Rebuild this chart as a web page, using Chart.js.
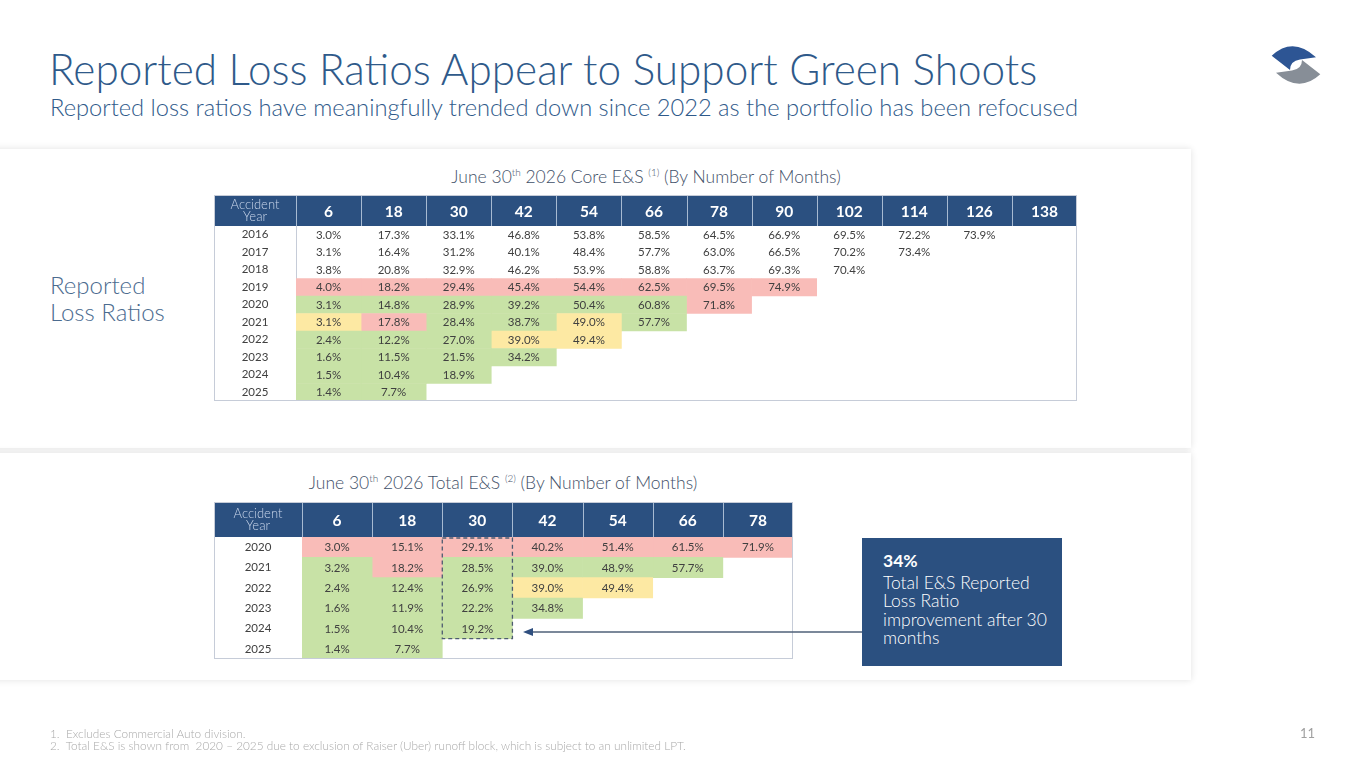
<!DOCTYPE html>
<html>
<head>
<meta charset="utf-8">
<script src="https://cdn.jsdelivr.net/npm/chart.js@4.4.1/dist/chart.umd.min.js"></script>
<style>
  html, body { margin:0; padding:0; background:#ffffff; }
  body { width:1365px; height:768px; position:relative; overflow:hidden; font-family:Lato, "Noto Sans", sans-serif; }
  .abs { position:absolute; }
  .title { left:49px; top:48px; font-size:42.3px; line-height:1; font-weight:300; color:#2f5a8a; white-space:nowrap; }
  .subtitle { left:50px; top:96px; font-size:23.7px; line-height:1; font-weight:300; color:#2f5a8a; white-space:nowrap; }
  .panel { left:-10px; width:1201px; background:#fff; box-shadow:0 0 7px rgba(0,0,0,0.12); }
  .tabtitle { font-size:17.5px; line-height:1; font-weight:300; color:#3f5068; white-space:nowrap; transform:translateX(-50%); }
  .tabtitle sup { font-size:10px; vertical-align:7px; line-height:0; }
  .side { left:50px; top:271px; font-size:24px; line-height:27px; font-weight:300; color:#4b6b8f; }
  .callout { left:862px; top:538px; width:200px; height:128px; background:#2b5080; color:#fff; box-sizing:border-box; padding:14px 0 0 21px; font-size:17.5px; line-height:18.5px; font-weight:300; }
  .callout b { font-weight:700; display:block; margin-bottom:3px; }
  .foot { left:50px; top:728px; font-size:11.8px; line-height:11.5px; font-weight:300; color:#aaaaaa; white-space:nowrap; }
  .page { left:1300px; top:727px; font-size:13px; line-height:1; color:#a0a0a0; }
</style>
</head>
<body>
<div class="abs title">Reported Loss Ratios Appear to Support Green Shoots</div>
<div class="abs subtitle">Reported loss ratios have meaningfully trended down since 2022 as the portfolio has been refocused</div>

<svg class="abs" style="left:0;top:0" width="1365" height="768" viewBox="0 0 1365 768">
  <path d="M1271.7,55.7 Q1293,36 1316,57.3 L1300,59.5 Q1290,61 1290,70 Z" fill="#2d5594"/>
  <path d="M1320.3,74.3 Q1299,94 1276,72.7 L1292,70.5 Q1302,69 1302,60 Z" fill="#878e97"/>
</svg>

<div class="abs panel" style="top:149px;height:299px"></div>
<div class="abs panel" style="top:453px;height:227px"></div>

<div class="abs side">Reported<br>Loss Ratios</div>

<div class="abs tabtitle" style="left:646px;top:168px">June 30<sup>th</sup> 2026 Core E&amp;S <sup>(1)</sup> (By Number of Months)</div>
<div class="abs tabtitle" style="left:503px;top:474px">June 30<sup>th</sup> 2026 Total E&amp;S <sup>(2)</sup> (By Number of Months)</div>

<div class="abs" style="left:214px;top:195px;width:863px;height:206px"><canvas id="core"></canvas></div>
<div class="abs" style="left:214px;top:502px;width:579px;height:157px"><canvas id="total"></canvas></div>

<svg class="abs" style="left:0;top:0;pointer-events:none" width="1365" height="768" viewBox="0 0 1365 768">
  <line x1="531" y1="632" x2="862" y2="632" stroke="#4f6079" stroke-width="1.3"/>
  <path d="M523,632 L533,628 L533,636 Z" fill="#2f4f7f"/>
</svg>

<div class="abs callout"><b>34%</b>Total E&amp;S Reported<br>Loss Ratio<br>improvement after 30<br>months</div>

<div class="abs foot">1.&nbsp; Excludes Commercial Auto division.<br>2.&nbsp; Total E&amp;S is shown from&nbsp; 2020 – 2025 due to exclusion of Raiser (Uber) runoff block, which is subject to an unlimited LPT.</div>
<div class="abs page">11</div>

<script>
// ---------- DATA ----------
const coreMonths = ['6','18','30','42','54','66','78','90','102','114','126','138'];
const coreYears  = ['2016','2017','2018','2019','2020','2021','2022','2023','2024','2025'];
const coreValues = [
  [3.0, 17.3, 33.1, 46.8, 53.8, 58.5, 64.5, 66.9, 69.5, 72.2, 73.9],
  [3.1, 16.4, 31.2, 40.1, 48.4, 57.7, 63.0, 66.5, 70.2, 73.4],
  [3.8, 20.8, 32.9, 46.2, 53.9, 58.8, 63.7, 69.3, 70.4],
  [4.0, 18.2, 29.4, 45.4, 54.4, 62.5, 69.5, 74.9],
  [3.1, 14.8, 28.9, 39.2, 50.4, 60.8, 71.8],
  [3.1, 17.8, 28.4, 38.7, 49.0, 57.7],
  [2.4, 12.2, 27.0, 39.0, 49.4],
  [1.6, 11.5, 21.5, 34.2],
  [1.5, 10.4, 18.9],
  [1.4, 7.7]
];
// highlight class per cell: r = worse, g = better, y = flat
const coreFlags = ['', '', '', 'rrrrrrrr', 'ggggggr', 'yrggyg', 'gggyy', 'gggg', 'ggg', 'gg'];

const totalMonths = ['6','18','30','42','54','66','78'];
const totalYears  = ['2020','2021','2022','2023','2024','2025'];
const totalValues = [
  [3.0, 15.1, 29.1, 40.2, 51.4, 61.5, 71.9],
  [3.2, 18.2, 28.5, 39.0, 48.9, 57.7],
  [2.4, 12.4, 26.9, 39.0, 49.4],
  [1.6, 11.9, 22.2, 34.8],
  [1.5, 10.4, 19.2],
  [1.4, 7.7]
];
const totalFlags = ['rrrrrrr', 'grgggg', 'gggyy', 'gggg', 'ggg', 'gg'];
const totalHighlight = { month: '30', fromYear: '2020', toYear: '2024' };

// ---------- STYLE ----------
const palette = { r:'#f9bcb8', g:'#c8e2a6', y:'#fde9a3' };
const headerBlue = '#2b5080';
const borderGray = '#c6ccd8';
const cellFont = '11.5px Lato';
const textGray = '#404040';

function measure(txt, font){
  const c = document.createElement('canvas').getContext('2d');
  c.font = font; return c.measureText(txt).width;
}

function makeTable(id, months, years, values, flags, cfg){
  const datasets = months.map((m, j) => ({
    label: m,
    data: years.map((y, i) => values[i][j] != null ? [j, j + 1] : null),
    backgroundColor: ctx => palette[(flags[ctx.dataIndex] || '')[j]] || 'rgba(0,0,0,0)',
    borderWidth: 0,
    borderSkipped: false,
    grouped: false,
    barPercentage: 1,
    categoryPercentage: 1
  }));

  const yearW = measure('2016', cellFont);

  const tablePlugin = {
    id: 'tableDeco',
    beforeDraw(chart){
      const {ctx, chartArea, width} = chart;
      const xs = chart.scales.x;
      ctx.save();
      ctx.fillStyle = headerBlue;
      ctx.fillRect(0, 0, width, chartArea.top);
      ctx.strokeStyle = 'rgba(210,222,238,0.75)';
      ctx.lineWidth = 1;
      for (let j = 0; j < months.length; j++){
        const px = Math.round(xs.getPixelForValue(j)) + 0.5;
        ctx.beginPath(); ctx.moveTo(px, 1); ctx.lineTo(px, chartArea.top); ctx.stroke();
      }
      ctx.fillStyle = '#c9d6ea';
      ctx.font = '300 13px Lato';
      ctx.textAlign = 'center'; ctx.textBaseline = 'middle';
      const cx = chartArea.left / 2, cy = chartArea.top / 2;
      ctx.fillText('Accident', cx, cy - 6);
      ctx.fillText('Year', cx, cy + 6);
      ctx.restore();
    },
    afterDatasetsDraw(chart){
      const {ctx} = chart;
      ctx.save();
      ctx.font = cellFont;
      ctx.fillStyle = textGray;
      ctx.textAlign = 'center'; ctx.textBaseline = 'middle';
      chart.data.datasets.forEach((ds, j) => {
        chart.getDatasetMeta(j).data.forEach((el, i) => {
          const v = values[i][j];
          if (v == null) return;
          const p = el.getCenterPoint();
          ctx.fillText(v.toFixed(1) + '%', p.x, p.y + 0.5);
        });
      });
      if (cfg.highlight){
        const xs = chart.scales.x, ys = chart.scales.y;
        const j = months.indexOf(cfg.highlight.month);
        const i0 = years.indexOf(cfg.highlight.fromYear), i1 = years.indexOf(cfg.highlight.toYear);
        const rowH = ys.height / years.length;
        const x0 = xs.getPixelForValue(j), x1 = xs.getPixelForValue(j + 1);
        const y0 = ys.getPixelForValue(i0) - rowH / 2, y1 = ys.getPixelForValue(i1) + rowH / 2;
        ctx.setLineDash([4, 3]);
        ctx.strokeStyle = '#4d5b70';
        ctx.lineWidth = 1.3;
        ctx.strokeRect(x0, y0 + 1, x1 - x0, y1 - y0 - 1);
      }
      ctx.restore();
    },
    afterDraw(chart){
      const {ctx, width, height} = chart;
      ctx.save();
      ctx.strokeStyle = borderGray; ctx.lineWidth = 1;
      ctx.strokeRect(0.5, 0.5, width - 1, height - 1);
      ctx.restore();
    }
  };

  return new Chart(document.getElementById(id), {
    type: 'bar',
    data: { labels: years, datasets },
    options: {
      indexAxis: 'y',
      responsive: true,
      maintainAspectRatio: false,
      animation: false,
      layout: { padding: 0, autoPadding: false },
      plugins: { legend: { display: false }, tooltip: { enabled: false } },
      scales: {
        x: {
          type: 'linear', position: 'top', min: 0, max: months.length,
          grid: { display: false, drawTicks: false },
          border: { display: false },
          afterBuildTicks: s => { s.ticks = months.map((m, i) => ({ value: i + 0.5 })); },
          afterFit: s => { s.height = cfg.headerH; s.paddingLeft = 0; s.paddingRight = 0; s.paddingTop = 0; s.paddingBottom = 0; },
          ticks: {
            autoSkip: false, maxRotation: 0, padding: cfg.headerH / 2 - 11,
            color: '#ffffff', font: { family: 'Lato', weight: 'bold', size: 15.5 },
            callback: (v, i) => months[i]
          }
        },
        y: {
          type: 'category',
          grid: { display: false, drawTicks: false },
          border: { display: true, color: borderGray, width: 1 },
          afterFit: s => { s.width = cfg.yearColW; s.paddingTop = 0; s.paddingBottom = 0; s.paddingLeft = 0; s.paddingRight = 0; },
          ticks: {
            autoSkip: false, crossAlign: 'center',
            padding: cfg.yearColW / 2 - yearW / 2,
            color: textGray, font: { family: 'Lato', size: 11.5 }
          }
        }
      }
    },
    plugins: [tablePlugin]
  });
}

makeTable('core', coreMonths, coreYears, coreValues, coreFlags, { headerH: 31, yearColW: 82 });
makeTable('total', totalMonths, totalYears, totalValues, totalFlags, { headerH: 35, yearColW: 88, highlight: totalHighlight });
</script>
</body>
</html>
